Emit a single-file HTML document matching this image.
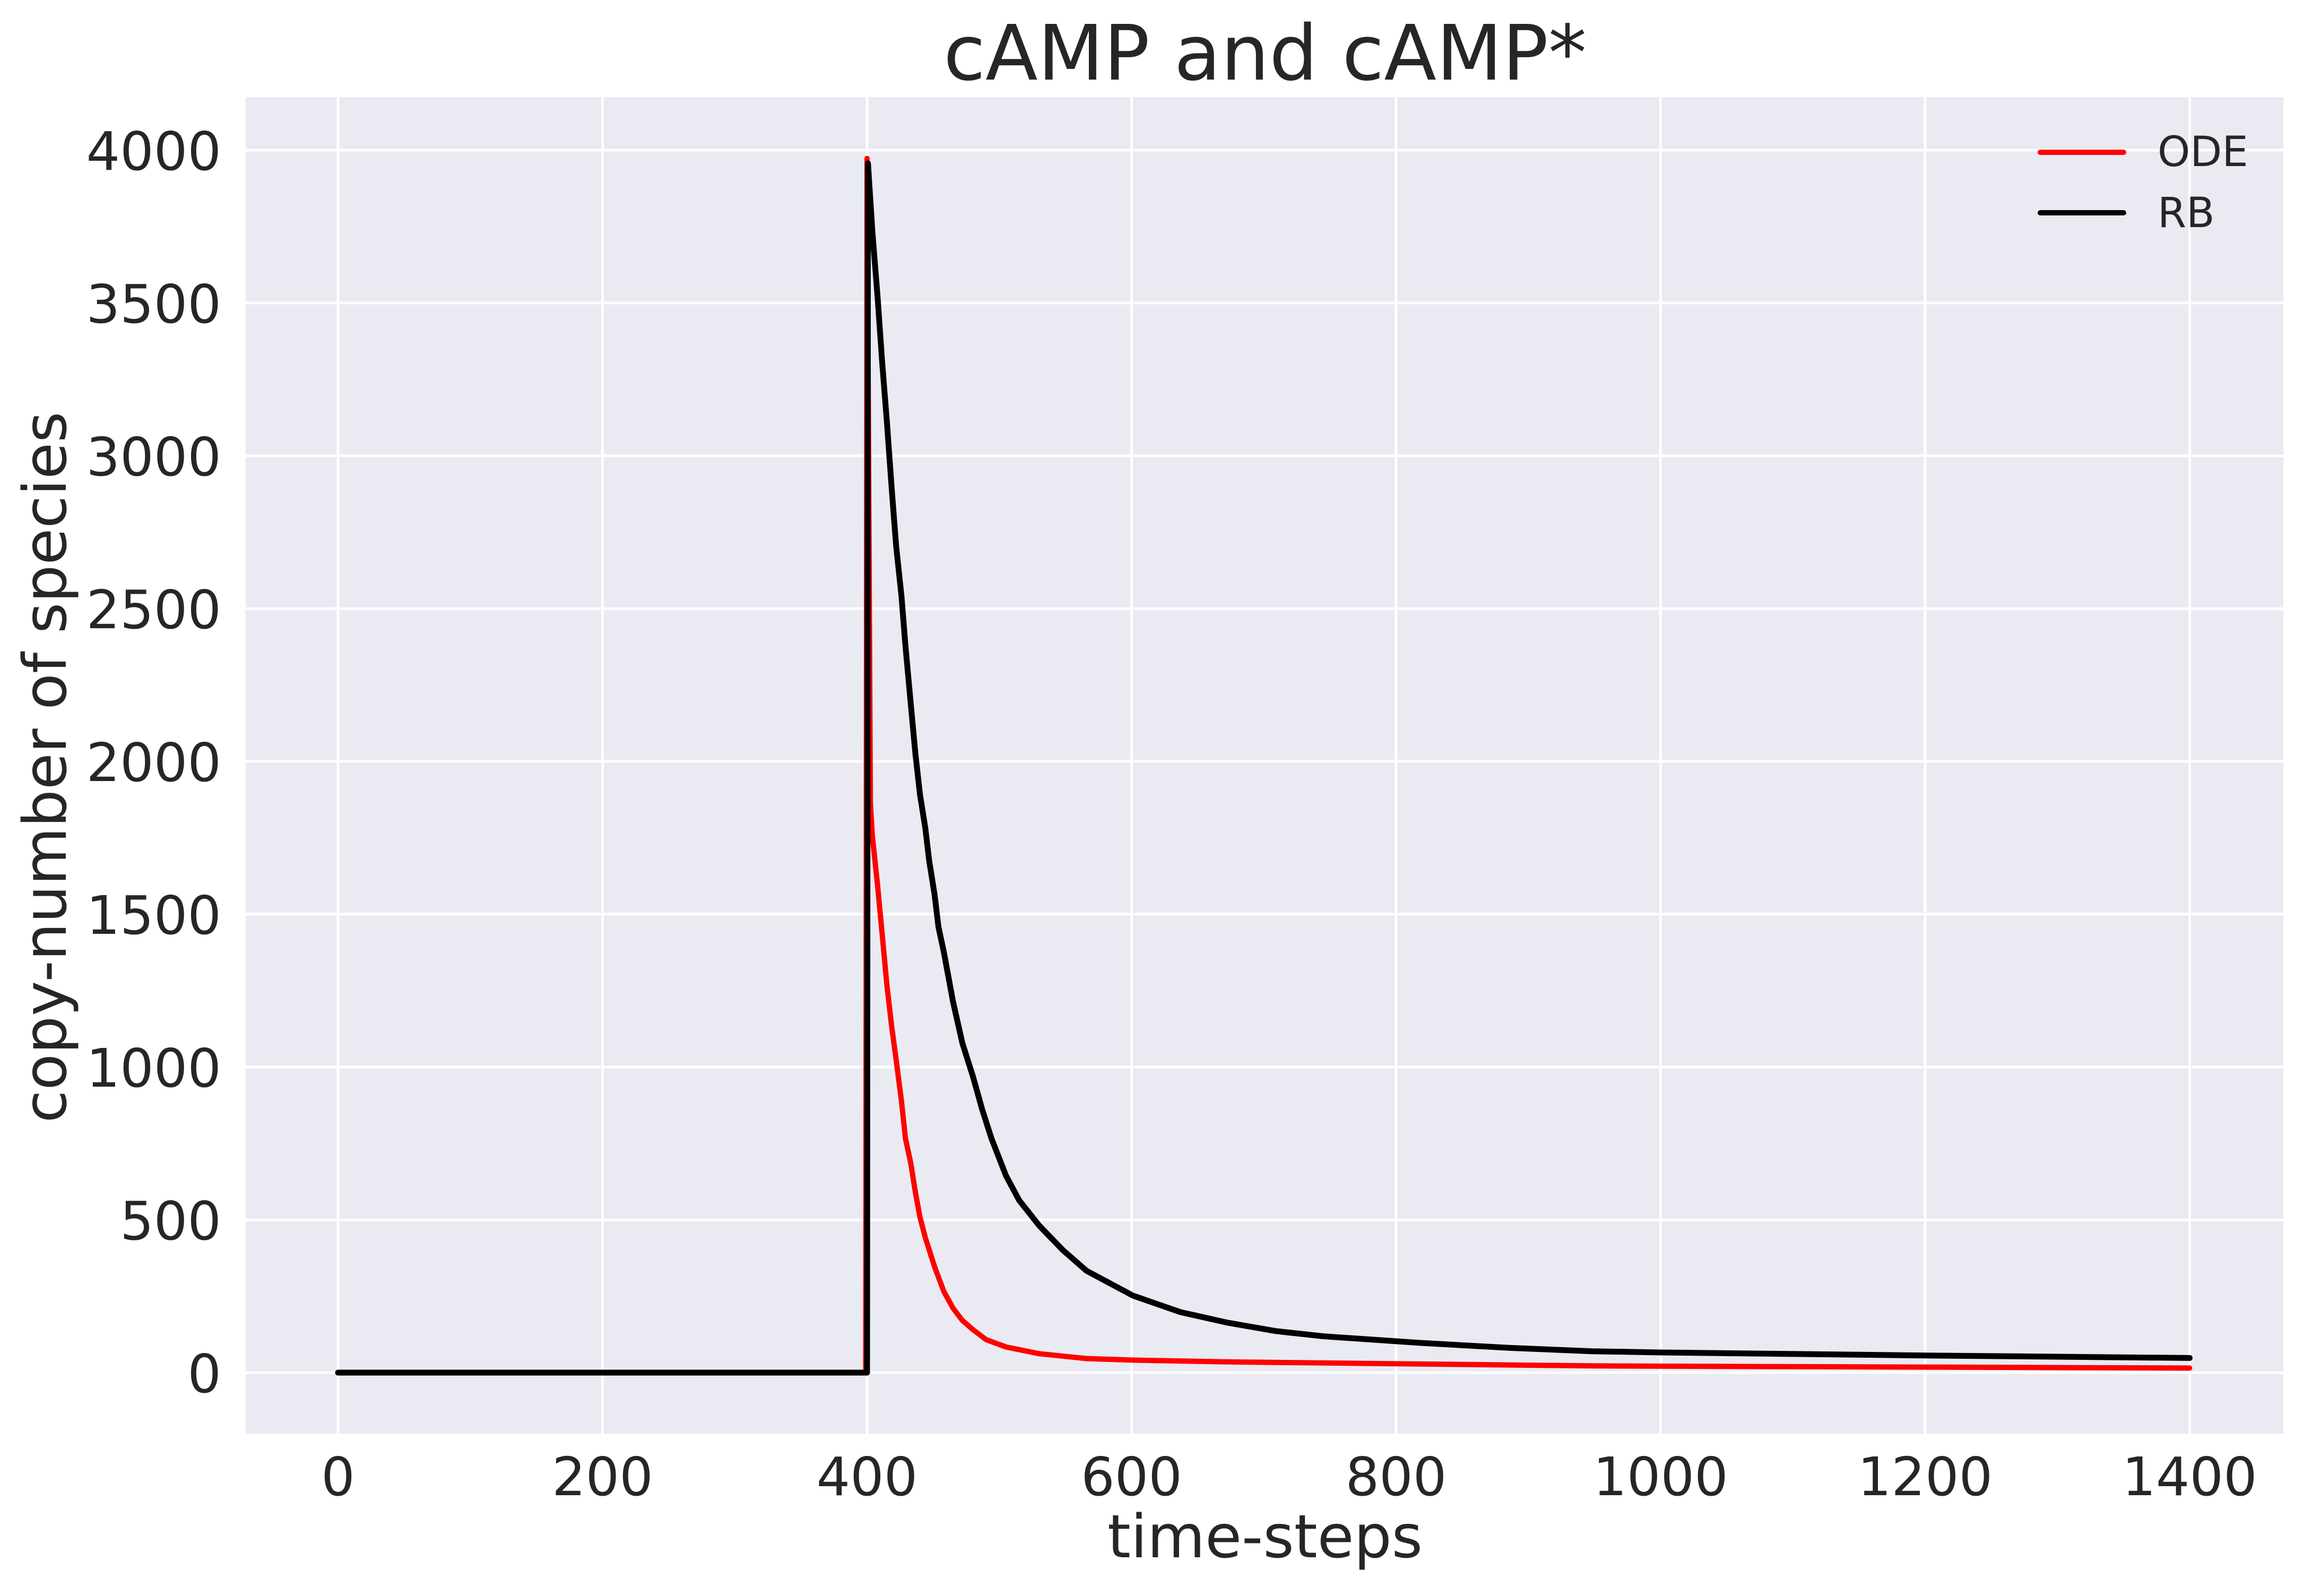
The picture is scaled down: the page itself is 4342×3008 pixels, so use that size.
<!DOCTYPE html>
<html><head><meta charset="utf-8"><style>
html,body{margin:0;padding:0;background:#fff;}
svg{display:block;font-family:"DejaVu Sans","Liberation Sans",sans-serif;}
</style></head><body>
<svg id="chart" width="4342" height="3008" viewBox="0 0 4342 3008" xmlns="http://www.w3.org/2000/svg">
<rect x="0" y="0" width="4342" height="3008" fill="#ffffff"/>
<rect x="463" y="183" width="3840" height="2519" fill="#EAEAF2"/>
<g id="grid"></g>
<g id="ticks"></g>
<g id="series"></g>
<text x="2384" y="150" font-size="144" text-anchor="middle" fill="#262626">cAMP and cAMP*</text>
<text x="2384" y="2935" font-size="112" text-anchor="middle" fill="#262626">time-steps</text>
<text x="124" y="1446" font-size="112" text-anchor="middle" fill="#262626" transform="rotate(-90 124 1446)">copy-number of species</text>
<g>
<line x1="3845" y1="287" x2="4002" y2="287" stroke="#ff0000" stroke-width="10" stroke-linecap="round"/>
<text x="4066" y="313" font-size="78" fill="#262626">ODE</text>
<line x1="3845" y1="401" x2="4002" y2="401" stroke="#000000" stroke-width="10" stroke-linecap="round"/>
<text x="4066" y="428" font-size="78" fill="#262626">RB</text>
</g>
</svg>
<script>
const xTicks = [0, 200, 400, 600, 800, 1000, 1200, 1400];
const yTicks = [0, 500, 1000, 1500, 2000, 2500, 3000, 3500, 4000];
const odeX = [0, 399, 400, 402.5, 404, 408, 411.5, 415, 418.6, 422, 426, 429, 433, 436.5, 440, 444, 451, 458, 465, 472, 480, 490, 505, 530, 566, 601, 673, 780, 948, 1000, 1200, 1400];
const odeY = [0, 0, 3973, 1864, 1756, 1593, 1431, 1268, 1133, 1024, 889, 767, 686, 591, 509, 442, 347, 266, 211, 171, 141, 108, 84, 62, 46, 41, 35, 30, 22, 21, 18, 15];
const rbX = [0, 400, 400.7, 404, 408, 411.5, 415, 418.6, 422, 426, 429, 433, 436.5, 440, 444, 447, 451, 454, 458, 465, 472, 480, 487, 494, 505, 515, 530, 548, 566, 601, 637, 673, 709, 745, 816, 885, 948, 1000, 1200, 1400];
const rbY = [0, 0, 3957, 3734, 3518, 3301, 3111, 2894, 2705, 2542, 2379, 2190, 2027, 1892, 1783, 1675, 1566, 1458, 1377, 1214, 1079, 970, 862, 767, 645, 564, 482, 401, 333, 252, 198, 163, 136, 119, 98, 81, 70, 66, 56, 48];

const NS = 'http://www.w3.org/2000/svg';
const L = 463, R = 4303, T = 183, B = 2702;
function xs(v){ return 637 + v * (498.5/200); }
function ys(v){ return 2587 - v * (288/500); }

const grid = document.getElementById('grid');
const ticks = document.getElementById('ticks');
xTicks.forEach(v => {
  const ln = document.createElementNS(NS,'line');
  
  
  ln.setAttribute('x1', xs(v)); ln.setAttribute('x2', xs(v));
  ln.setAttribute('y1', T); ln.setAttribute('y2', B);
  ln.setAttribute('stroke', '#ffffff'); ln.setAttribute('stroke-width', '5');
  grid.appendChild(ln);
  const t = document.createElementNS(NS,'text');
  
  
  t.setAttribute('x', xs(v)); t.setAttribute('y', 2818);
  t.setAttribute('font-size', '100'); t.setAttribute('text-anchor', 'middle');
  t.setAttribute('fill', '#262626');
  t.textContent = v;
  ticks.appendChild(t);
});
yTicks.forEach(v => {
  const ln = document.createElementNS(NS,'line');
  
  
  ln.setAttribute('x1', L); ln.setAttribute('x2', R);
  ln.setAttribute('y1', ys(v)); ln.setAttribute('y2', ys(v));
  ln.setAttribute('stroke', '#ffffff'); ln.setAttribute('stroke-width', '5');
  grid.appendChild(ln);
  const t = document.createElementNS(NS,'text');
  
  
  t.setAttribute('x', 417); t.setAttribute('y', ys(v) + 37);
  t.setAttribute('font-size', '100'); t.setAttribute('text-anchor', 'end');
  t.setAttribute('fill', '#262626');
  t.textContent = v;
  ticks.appendChild(t);
});

const series = document.getElementById('series');
function drawLine(xsArr, ysArr, color, w, name){
  const p = document.createElementNS(NS,'polyline');
  
  
  p.setAttribute('points', xsArr.map((x,i) => xs(x).toFixed(1) + ',' + ys(ysArr[i]).toFixed(1)).join(' '));
  p.setAttribute('fill', 'none');
  p.setAttribute('stroke', color);
  p.setAttribute('stroke-width', w);
  p.setAttribute('stroke-linejoin', 'round');
  p.setAttribute('stroke-linecap', 'round');
  series.appendChild(p);
}
drawLine(odeX, odeY, '#ff0000', 10, 'ode-line');
drawLine(rbX, rbY, '#000000', 11, 'rb-line');
</script>
</body></html>
